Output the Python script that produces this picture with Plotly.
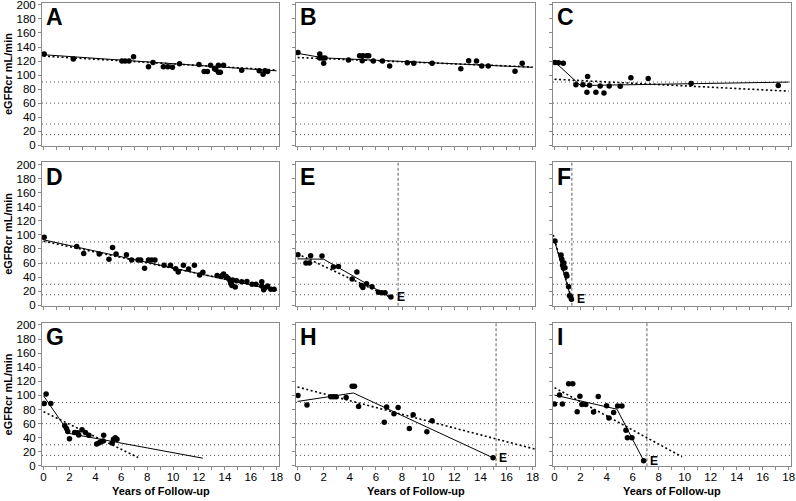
import plotly.graph_objects as go

# ---------------- data (years, eGFRcr mL/min) ----------------
panel_labels = ["A", "B", "C", "D", "E", "F", "G", "H", "I"]
ref_levels = [90, 60, 30, 15]
x_ticks = [0, 2, 4, 6, 8, 10, 12, 14, 16, 18]
y_ticks = [0, 20, 40, 60, 80, 100, 120, 140, 160, 180, 200]

a_x = [0.05, 2.3, 6.05, 6.3, 6.6, 6.95, 8.1, 8.45, 9.25, 9.6, 9.95, 10.5, 12.0, 12.4, 12.65,
       12.9, 13.2, 13.3, 13.5, 13.5, 13.65, 13.9, 15.3, 16.65, 16.95, 17.1, 17.3]
a_y = [130, 123, 120, 120, 120, 126, 112, 118, 112, 112, 111, 116, 115, 105, 105,
       114, 109, 108, 114, 104, 104, 114, 107, 106, 101, 106, 105]
a_fit_x = [0, 18]
a_fit_y = [129, 106]
a_lin_x = [0, 18]
a_lin_y = [127, 107]

b_x = [0.03, 1.7, 1.7, 1.9, 2.1, 2.0, 3.9, 4.75, 5.0, 5.3, 5.45, 4.95, 5.8, 6.5, 7.05, 8.4,
       8.9, 10.3, 12.5, 13.1, 13.7, 14.1, 14.6, 16.65, 17.2]
b_y = [132, 130, 124.5, 124.5, 124.5, 117, 121.5, 127.5, 127.5, 127.5, 127.5, 120.5, 120, 120,
       113, 117.5, 117, 117, 109, 120.5, 120, 113, 113, 105.5, 117]
b_fit_x = [0, 2, 18]
b_fit_y = [131, 124.5, 111]
b_lin_x = [0, 18]
b_lin_y = [125, 111.5]

c_x = [0.03, 0.3, 0.67, 1.64, 2.18, 2.54, 2.69, 2.49, 3.18, 3.51, 3.8, 4.2, 5.05, 5.87, 7.2,
       10.5, 17.2]
c_y = [118, 117.5, 117, 86, 86, 98, 85.5, 75.5, 75.5, 84.5, 74.5, 84.5, 84, 96, 95, 88, 85]
c_fit_x = [0, 2, 18]
c_fit_y = [119, 85, 90]
c_lin_x = [0, 18]
c_lin_y = [94, 77]

d_x = [0.05, 2.56, 3.1, 4.3, 5.05, 5.33, 5.6, 6.4, 6.8, 7.3, 7.5, 7.8, 8.1, 8.35, 8.6, 9.3,
       9.8, 10.2, 10.4, 10.8, 11.2, 11.65, 12.05, 12.3, 13.4, 13.7, 13.8, 13.9, 14.1, 14.25,
       14.4, 14.45, 14.5, 14.6, 14.55, 14.8, 14.9, 15.3, 15.7, 16.1, 16.4, 16.85, 16.85, 17.0,
       17.1, 17.3, 17.55, 17.8]
d_y = [96.5, 83.5, 73.5, 73, 65.5, 82, 73, 72, 64.5, 64.5, 64.5, 52.5, 64.5, 64.5, 64.5, 57,
       57, 52, 47.5, 57, 51.5, 57, 43, 47, 42.5, 41, 42.5, 44.5, 41, 38.5,
       35, 32, 30, 36, 28, 26, 35, 33.5, 34, 30, 30, 33.5, 27.5, 22,
       25, 27.5, 23, 23]
d_fit_x = [0, 18]
d_fit_y = [93, 21]
d_lin_x = [0, 18]
d_lin_y = [91, 22]

e_x = [0.03, 0.64, 0.9, 1.0, 1.87, 2.74, 3.13, 4.18, 4.54, 4.9, 5.0, 5.28, 5.7, 6.2, 6.46,
       6.7, 7.15]
e_y = [72, 60, 60, 70.5, 70, 54.5, 55, 37.5, 47.5, 28, 25.5, 30.5, 26.5, 18.5, 18, 18, 12]
e_fit_x = [0, 2, 7.15]
e_fit_y = [66, 65.5, 11]
e_lin_x = [0, 7.15]
e_lin_y = [73, 11]
e_esrd = 7.7

f_x = [0.03, 0.5, 0.56, 0.62, 0.68, 0.72, 0.8, 0.9, 0.95, 1.08, 1.15, 1.23, 1.3]
f_y = [91.5, 71.5, 65.5, 57, 53, 60, 53.5, 44, 41.5, 26.5, 13.5, 12.5, 8.5]
f_fit_x = [0, 1.3]
f_fit_y = [91.5, 8]
f_lin_x = [-0.1, 1.3]
f_lin_y = [100, 9]
f_esrd = 1.33

g_x = [0.05, 0.2, 0.56, 1.64, 1.77, 1.87, 2.0, 2.4, 2.64, 2.72, 2.97, 3.23, 3.5, 4.1, 4.26,
       4.4, 4.64, 4.6, 5.3, 5.4, 5.54, 5.67]
g_y = [88.5, 102, 88.5, 57, 53, 49, 38.5, 47.5, 47, 44, 51.5, 47.5, 43.5, 31, 32.5,
       34, 43.5, 35.5, 32.5, 38, 40, 38]
g_fit_x = [0, 2.0, 12.3]
g_fit_y = [99.5, 46, 11]
g_lin_x = [0, 7.3]
g_lin_y = [77, 12]

h_x = [0.03, 0.72, 2.54, 2.74, 2.95, 3.72, 4.18, 4.36, 4.67, 6.64, 6.82, 7.38, 7.7, 8.56,
       8.85, 9.9, 10.3, 14.97]
h_y = [100, 86.5, 98, 98, 98, 97, 113, 113, 84.5, 62, 83.5, 74, 83, 53, 72.5, 48.5, 64, 11.5]
h_fit_x = [0, 4.28, 14.97]
h_fit_y = [91.5, 103.5, 11.5]
h_lin_x = [0, 18.15]
h_lin_y = [112, 24]
h_esrd = 15.2

i_x = [0.0, 0.38, 0.6, 1.08, 1.4, 1.74, 1.95, 2.1, 2.4, 3.0, 3.36, 4.0, 4.18, 4.54, 4.85,
       5.18, 5.49, 5.6, 5.95, 6.85]
i_y = [88, 100.5, 88, 116.5, 116.5, 77, 99, 87, 87, 76.5, 98.5, 85.5, 68, 76, 85,
       85, 50.5, 40, 40, 7.5]
i_fit_x = [0, 4.8, 6.85]
i_fit_y = [100.5, 80.5, 7.5]
i_lin_x = [0, 9.8]
i_lin_y = [111, 13]
i_esrd = 7.1

panels = [
    (a_x, a_y, a_fit_x, a_fit_y, a_lin_x, a_lin_y, None),
    (b_x, b_y, b_fit_x, b_fit_y, b_lin_x, b_lin_y, None),
    (c_x, c_y, c_fit_x, c_fit_y, c_lin_x, c_lin_y, None),
    (d_x, d_y, d_fit_x, d_fit_y, d_lin_x, d_lin_y, None),
    (e_x, e_y, e_fit_x, e_fit_y, e_lin_x, e_lin_y, e_esrd),
    (f_x, f_y, f_fit_x, f_fit_y, f_lin_x, f_lin_y, f_esrd),
    (g_x, g_y, g_fit_x, g_fit_y, g_lin_x, g_lin_y, None),
    (h_x, h_y, h_fit_x, h_fit_y, h_lin_x, h_lin_y, h_esrd),
    (i_x, i_y, i_fit_x, i_fit_y, i_lin_x, i_lin_y, i_esrd),
]

# ---------------- layout geometry (pixels) ----------------
W, H = 796, 501
col_px = [(42, 279), (296, 535), (553, 791)]
row_px = [(2.5, 145.5), (162, 305.7), (322.5, 466.3)]
FONT = "Liberation Sans, Arial, Helvetica, sans-serif"
AXC = "#8a8a8a"

fig = go.Figure()
layout = dict(
    template="none",
    width=W, height=H, margin=dict(l=0, r=0, t=0, b=0, pad=0),
    paper_bgcolor="white", plot_bgcolor="white", showlegend=False,
    font=dict(family=FONT, size=11, color="black"),
)
shapes = []
annotations = []

for k, (px_, py_, fx, fy, lx, ly, esrd) in enumerate(panels):
    r, c = divmod(k, 3)
    n = k + 1
    xa = "xaxis" if n == 1 else f"xaxis{n}"
    ya = "yaxis" if n == 1 else f"yaxis{n}"
    xr = "x" if n == 1 else f"x{n}"
    yr = "y" if n == 1 else f"y{n}"
    x0p, x1p = col_px[c]
    y0p, y1p = row_px[r]
    layout[xa] = dict(
        domain=[x0p / W, x1p / W], anchor=yr, range=[-0.12, 18.18], automargin=False,
        tickvals=x_ticks, ticktext=[str(v) for v in x_ticks],
        showticklabels=(r == 2), ticks="outside", ticklen=3, tickcolor=AXC, tickwidth=1,
        minor=dict(dtick=1, tick0=0, ticks="outside", ticklen=3, tickcolor=AXC),
        showline=True, linecolor=AXC, linewidth=1, mirror=True, showgrid=False,
        zeroline=False, ticklabelstandoff=-3, ticklabeloverflow="allow",
        tickfont=dict(size=11.5, color="black", family=FONT),
    )
    layout[ya] = dict(
        domain=[1 - y1p / H, 1 - y0p / H], anchor=xr, range=[-0.5, 203.5], automargin=False,
        tickvals=y_ticks, showticklabels=(c == 0), ticks="outside", ticklen=3,
        tickcolor=AXC, tickwidth=1, showline=True, linecolor=AXC, linewidth=1,
        mirror=True, showgrid=False, zeroline=False, ticklabelstandoff=0,
        ticklabeloverflow="allow",
        tickfont=dict(size=11.5, color="black", family=FONT),
    )
    # reference eGFR levels
    for lev in ref_levels:
        shapes.append(dict(type="line", xref=f"{xr} domain", yref=yr, x0=0, x1=1,
                           y0=lev, y1=lev, line=dict(color="#555555", width=1, dash="1px,3px"),
                           layer="below"))
    if esrd is not None:
        shapes.append(dict(type="line", xref=xr, yref=f"{yr} domain", x0=esrd, x1=esrd,
                           y0=0, y1=1, line=dict(color="#7a7a7a", width=1.2, dash="3px,2px"),
                           layer="below"))
        annotations.append(dict(x=px_[-1], y=py_[-1], xref=xr, yref=yr, text="<b>E</b>",
                                showarrow=False, xanchor="left", yanchor="middle", xshift=4,
                                font=dict(size=12, color="black", family=FONT)))
    fig.add_trace(go.Scatter(x=lx, y=ly, mode="lines", xaxis=xr, yaxis=yr, hoverinfo="skip",
                             line=dict(color="black", width=1.6, dash="2px,2.5px")))
    fig.add_trace(go.Scatter(x=fx, y=fy, mode="lines", xaxis=xr, yaxis=yr, hoverinfo="skip",
                             line=dict(color="black", width=1)))
    fig.add_trace(go.Scatter(x=px_, y=py_, mode="markers", xaxis=xr, yaxis=yr,
                             marker=dict(color="black", size=5.5, line=dict(width=0))))
    # panel letter
    annotations.append(dict(x=(x0p + 3) / W, y=1 - (y0p + 0.5) / H, xref="paper", yref="paper",
                            text=f"<b>{panel_labels[k]}</b>", showarrow=False,
                            xanchor="left", yanchor="top", borderpad=0,
                            font=dict(size=23, color="black", family=FONT)))
    if c == 0:
        annotations.append(dict(x=8 / W, y=1 - ((y0p + y1p) / 2) / H, xref="paper", yref="paper",
                                text="<b>eGFRcr mL/min</b>", showarrow=False, textangle=-90,
                                xanchor="center", yanchor="middle",
                                font=dict(size=11, color="black", family=FONT)))
    if r == 2:
        annotations.append(dict(x=((x0p + x1p) / 2) / W, y=1 - 491 / H, xref="paper", yref="paper",
                                text="<b>Years of Follow-up</b>", showarrow=False,
                                xanchor="center", yanchor="middle",
                                font=dict(size=11, color="black", family=FONT)))

layout["shapes"] = shapes
layout["annotations"] = annotations
fig.update_layout(**layout)
fig.write_html(
    "out.html",
    config={"displayModeBar": False},
    post_script="document.body.style.margin='0';document.body.style.overflow='hidden';",
)
